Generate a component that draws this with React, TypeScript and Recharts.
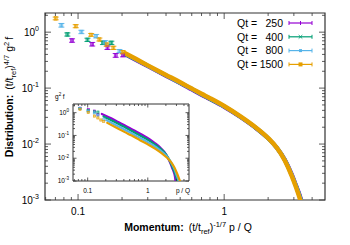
import { ComposedChart, Line, Scatter, ErrorBar, XAxis, YAxis, ReferenceArea, Legend } from "recharts";

const FONT = '"Liberation Sans", Arial, Helvetica, sans-serif';

const qtLabels = ["250", "400", "800", "1500"];
const colors = ["#9400d3", "#009e73", "#56b4e9", "#e69f00"];

// main plot: low momentum points with error bars
const purpleSparseP = [0.091, 0.125, 0.159, 0.181, 0.203];
const purpleSparseF = [0.71, 0.61, 0.53, 0.385, 0.39];
const purpleSparseE = [0.05, 0.045, 0.04, 0.03, 0.028];
const greenSparseP = [0.0845, 0.116, 0.148, 0.169];
const greenSparseF = [0.91, 0.73, 0.645, 0.645];
const greenSparseE = [0.06, 0.05, 0.045, 0.045];
const cyanSparseP = [0.0769, 0.1054, 0.133, 0.153, 0.192];
const cyanSparseF = [1.33, 1.01, 0.85, 0.66, 0.46];
const cyanSparseE = [0.1, 0.07, 0.06, 0.045, 0.03];
const orangeSparseP = [0.0703, 0.0964, 0.123, 0.14, 0.157, 0.1745, 0.202];
const orangeSparseF = [1.76, 1.28, 0.895, 0.74, 0.6, 0.525, 0.44];
const orangeSparseE = [0.1, 0.08, 0.05, 0.045, 0.04, 0.035, 0.03];

// main plot: dense part (collapsed curves)
const denseP = [0.21, 0.25, 0.3, 0.4, 0.5, 0.6, 0.7, 0.8, 1.0, 1.3, 1.6, 2.0, 2.3, 2.6, 2.9, 3.1, 3.3, 3.45];
const purpleDenseF = [0.4, 0.315, 0.246, 0.165, 0.122, 0.094, 0.0755, 0.063, 0.046, 0.03, 0.0204, 0.0126, 0.0085, 0.0053, 0.0029, 0.00185, 0.0012, 0.0008];
const greenDenseF = [0.405, 0.32, 0.25, 0.168, 0.124, 0.096, 0.077, 0.064, 0.0468, 0.0303, 0.0206, 0.0126, 0.0085, 0.0052, 0.0028, 0.0018, 0.00115, 0.00078];
const cyanDenseF = [0.41, 0.325, 0.252, 0.17, 0.125, 0.097, 0.078, 0.065, 0.0473, 0.0306, 0.0208, 0.0127, 0.0085, 0.0052, 0.0028, 0.00178, 0.00112, 0.00075];
const orangeDenseF = [0.42, 0.33, 0.255, 0.172, 0.127, 0.098, 0.079, 0.066, 0.048, 0.031, 0.021, 0.0128, 0.0085, 0.0051, 0.0027, 0.0017, 0.00105, 0.0007];

// inset: unscaled g^2 f vs p/Q
const purpleInsetSparseP = [0.0746, 0.1025, 0.13, 0.148];
const purpleInsetSparseF = [1.57, 1.35, 1.17, 0.84];
const greenInsetSparseP = [0.0741, 0.1017, 0.13, 0.148];
const greenInsetSparseF = [1.53, 1.23, 1.08, 1.06];
const cyanInsetSparseP = [0.0745, 0.102, 0.129, 0.148, 0.186];
const cyanInsetSparseF = [1.51, 1.15, 0.97, 0.75, 0.52];
const orangeInsetSparseP = [0.0745, 0.102, 0.13, 0.148, 0.166, 0.185];
const orangeInsetSparseF = [1.4, 1.015, 0.71, 0.587, 0.476, 0.416];

const purpleInsetP = [0.172, 0.246, 0.328, 0.41, 0.574, 0.82, 1.066, 1.31, 1.64, 1.886, 2.13, 2.38, 2.54, 2.71, 2.83, 2.91];
const purpleInsetF = [0.88, 0.564, 0.38, 0.281, 0.172, 0.104, 0.0685, 0.0464, 0.0283, 0.0188, 0.0111, 0.006, 0.00376, 0.00243, 0.00155, 0.00088];
const greenInsetP = [0.184, 0.263, 0.351, 0.439, 0.614, 0.877, 1.14, 1.4, 1.754, 2.02, 2.28, 2.54, 2.72, 2.89, 3.03, 3.11];
const greenInsetF = [0.68, 0.43, 0.29, 0.214, 0.132, 0.0793, 0.0523, 0.0354, 0.0216, 0.0143, 0.00844, 0.00455, 0.00287, 0.00186, 0.00118, 0.00067];
const cyanInsetP = [0.204, 0.291, 0.388, 0.484, 0.678, 0.969, 1.26, 1.55, 1.94, 2.23, 2.52, 2.81, 3.0, 3.2, 3.34];
const cyanInsetF = [0.47, 0.29, 0.195, 0.144, 0.0886, 0.0534, 0.0352, 0.0239, 0.0145, 0.00966, 0.00568, 0.00307, 0.00193, 0.00125, 0.0008];
const orangeInsetP = [0.212, 0.318, 0.424, 0.53, 0.742, 1.06, 1.378, 1.696, 2.12, 2.44, 2.76, 3.07, 3.29, 3.5];
const orangeInsetF = [0.357, 0.202, 0.136, 0.101, 0.062, 0.0373, 0.0246, 0.0167, 0.0102, 0.0067, 0.00397, 0.00214, 0.00135, 0.00087];

const rows = (ps: number[], fs: number[], es?: number[]) =>
  ps.map((p, i) => ({ p, f: fs[i], e: es ? es[i] : 0 }));

const mainSparse = [
  rows(purpleSparseP, purpleSparseF, purpleSparseE),
  rows(greenSparseP, greenSparseF, greenSparseE),
  rows(cyanSparseP, cyanSparseF, cyanSparseE),
  rows(orangeSparseP, orangeSparseF, orangeSparseE),
];
const mainDense = [purpleDenseF, greenDenseF, cyanDenseF, orangeDenseF].map((fs) => rows(denseP, fs));
const insetSparse = [
  rows(purpleInsetSparseP, purpleInsetSparseF),
  rows(greenInsetSparseP, greenInsetSparseF),
  rows(cyanInsetSparseP, cyanInsetSparseF),
  rows(orangeInsetSparseP, orangeInsetSparseF),
];
const insetDense = [
  rows(purpleInsetP, purpleInsetF),
  rows(greenInsetP, greenInsetF),
  rows(cyanInsetP, cyanInsetF),
  rows(orangeInsetP, orangeInsetF),
];

const MAIN_X = [0.0594, 4.9];
const MAIN_Y = [0.001, 2.2];
const INSET_X = [0.057, 4.85];
const INSET_Y = [0.001, 2.4];

const M = { l: 45, r: 325, t: 13, b: 200 };
const I = { l: 28, r: 144, t: 16, b: 93 };

const logTicks = (lo: number, hi: number) => {
  const out: number[] = [];
  for (let d = Math.floor(Math.log10(lo)); d <= Math.ceil(Math.log10(hi)); d++) {
    for (let m = 1; m <= 9; m++) {
      const v = m * Math.pow(10, d);
      if (v >= lo * 0.999 && v <= hi * 1.001) out.push(v);
    }
  }
  return out;
};
const isMajor = (v: number) => {
  const lg = Math.log10(v);
  return Math.abs(lg - Math.round(lg)) < 1e-6;
};
const fmtX = (v: number) => (v < 1 ? v.toFixed(1) : String(Math.round(v)));

const AX = "#333";

const makeYTick = (box: typeof M, big: number, small: number, fs: number, labelX: number) => (props: any) => {
  const v = props.payload.value;
  const y = props.y;
  const major = isMajor(v);
  const len = major ? big : small;
  return (
    <g>
      <line x1={box.l} x2={box.l + len} y1={y} y2={y} stroke={AX} strokeWidth={0.8} />
      <line x1={box.r} x2={box.r - len} y1={y} y2={y} stroke={AX} strokeWidth={0.8} />
      {major && (
        <text x={labelX} y={y + fs * 0.35} textAnchor="end" fontSize={fs} fontFamily={FONT} fill="#000">
          10
          <tspan dy={-fs * 0.45} fontSize={fs * 0.7}>
            {Math.round(Math.log10(v))}
          </tspan>
        </text>
      )}
    </g>
  );
};

const makeXTick = (box: typeof M, big: number, small: number, fs: number, labelY: number) => (props: any) => {
  const v = props.payload.value;
  const x = props.x;
  const major = isMajor(v);
  const len = major ? big : small;
  return (
    <g>
      <line x1={x} x2={x} y1={box.b} y2={box.b - len} stroke={AX} strokeWidth={0.8} />
      <line x1={x} x2={x} y1={box.t} y2={box.t + len} stroke={AX} strokeWidth={0.8} />
      {major && (
        <text x={x} y={labelY} textAnchor="middle" fontSize={fs} fontFamily={FONT} fill="#000">
          {fmtX(v)}
        </text>
      )}
    </g>
  );
};

const MainYTick = makeYTick(M, 6, 3, 10, 39);
const MainXTick = makeXTick(M, 6, 3, 10, 215);
const InsetYTick = makeYTick(I, 3.5, 2, 6.5, 24);
const InsetXTick = makeXTick(I, 3.5, 2, 6.5, 105);

const MainXLabel = () => (
  <text x={188} y={231} textAnchor="middle" fontSize={10.5} fontFamily={FONT} fill="#000">
    <tspan fontWeight="bold">Momentum:</tspan>
    <tspan dx={5}>(t/t</tspan>
    <tspan dy={2.5} fontSize={7.5}>ref</tspan>
    <tspan dy={-2.5}>)</tspan>
    <tspan dy={-4.5} fontSize={7.5}>-1/7</tspan>
    <tspan dy={4.5} dx={3}>p / Q</tspan>
  </text>
);

const MainYLabel = () => (
  <text
    x={0}
    y={0}
    transform="translate(13,97) rotate(-90)"
    textAnchor="middle"
    fontSize={10.5}
    fontFamily={FONT}
    fill="#000"
  >
    <tspan fontWeight="bold">Distribution:</tspan>
    <tspan dx={5}>(t/t</tspan>
    <tspan dy={2.5} fontSize={7.5}>ref</tspan>
    <tspan dy={-2.5}>)</tspan>
    <tspan dy={-4.5} fontSize={7.5}>4/7</tspan>
    <tspan dy={4.5} dx={3}>g</tspan>
    <tspan dy={-4.5} fontSize={7.5}>2</tspan>
    <tspan dy={4.5} dx={2}>f</tspan>
  </text>
);

const InsetXLabel = () => (
  <text x={138} y={105} textAnchor="middle" fontSize={6.5} fontFamily={FONT} fill="#000">
    p / Q
  </text>
);
const InsetYLabel = () => (
  <text x={10} y={11} fontSize={6.5} fontFamily={FONT} fill="#000">
    g<tspan dy={-3} fontSize={4.5}>2</tspan>
    <tspan dy={3} dx={1.5}>f</tspan>
  </text>
);

const marker = (i: number, x: number, y: number, c: string) => {
  if (i === 0) return <line x1={x} x2={x} y1={y - 2} y2={y + 2} stroke={c} strokeWidth={1} />;
  if (i === 1)
    return (
      <path d={`M${x - 1.8},${y - 1.8}L${x + 1.8},${y + 1.8}M${x - 1.8},${y + 1.8}L${x + 1.8},${y - 1.8}`} stroke={c} strokeWidth={0.9} />
    );
  if (i === 2) return <rect x={x - 1.5} y={y - 1.5} width={3} height={3} fill={c} />;
  return <rect x={x - 2} y={y - 2} width={4} height={4} fill={c} />;
};

const LegendBox = () => (
  <svg width={95} height={62} style={{ display: "block" }}>
    {qtLabels.map((q, i) => {
      const y = 9 + i * 13.8;
      const c = colors[i];
      return (
        <g key={q}>
          <text x={7} y={y + 3.7} fontSize={10.5} fontFamily={FONT} fill="#000">
            Qt =
          </text>
          <text x={53} y={y + 3.7} fontSize={10.5} fontFamily={FONT} fill="#000" textAnchor="end">
            {q}
          </text>
          <line x1={59} x2={82} y1={y} y2={y} stroke={c} strokeWidth={1.2} />
          <line x1={59} x2={59} y1={y - 2} y2={y + 2} stroke={c} strokeWidth={1} />
          <line x1={82} x2={82} y1={y - 2} y2={y + 2} stroke={c} strokeWidth={1} />
          {marker(i, 70.5, y, c)}
        </g>
      );
    })}
  </svg>
);

const pointShape = (c: string, w: number, h: number) => (props: any) => (
  <rect
    x={props.cx - w / 2}
    y={props.cy - h / 2}
    width={w}
    height={h}
    fill={c}
    fillOpacity={0.5}
    stroke={c}
    strokeWidth={0.6}
  />
);

export default function App() {
  return (
    <div style={{ position: "absolute", left: 0, top: 0, width: 350, height: 245, background: "#fff" }}>
      <ComposedChart width={350} height={245} margin={{ top: 13, right: 25, bottom: 0, left: 0 }}>
        <XAxis
          dataKey="p"
          type="number"
          scale="log"
          domain={MAIN_X}
          allowDataOverflow
          ticks={logTicks(MAIN_X[0], MAIN_X[1])}
          interval={0}
          tick={<MainXTick />}
          tickLine={false}
          axisLine={false}
          height={45}
          label={<MainXLabel />}
        />
        <YAxis
          type="number"
          scale="log"
          domain={MAIN_Y}
          allowDataOverflow
          ticks={logTicks(MAIN_Y[0], MAIN_Y[1])}
          interval={0}
          tick={<MainYTick />}
          tickLine={false}
          axisLine={false}
          width={45}
          label={<MainYLabel />}
        />
        <ReferenceArea
          x1={MAIN_X[0]}
          x2={MAIN_X[1]}
          y1={MAIN_Y[0]}
          y2={MAIN_Y[1]}
          fill="none"
          stroke={AX}
          strokeWidth={1.2}
          ifOverflow="visible"
        />
        {mainSparse.map((d, i) => (
          <Scatter key={"s" + i} data={d} dataKey="f" isAnimationActive={false} shape={pointShape(colors[i], 3, 3.5)}>
            <ErrorBar dataKey="e" direction="y" width={3} stroke={colors[i]} strokeWidth={0.9} />
          </Scatter>
        ))}
        {mainDense.map((d, i) => (
          <Line
            key={"d" + i}
            data={d}
            dataKey="f"
            type="monotone"
            stroke={colors[i]}
            strokeWidth={i === 3 ? 4.5 : 4}
            strokeLinecap="round"
            strokeLinejoin="round"
            dot={false}
            isAnimationActive={false}
          />
        ))}
        <Legend
          layout="vertical"
          align="center"
          verticalAlign="middle"
          content={<LegendBox />}
          wrapperStyle={{ left: 230, top: 14, width: 95, height: 62 }}
        />
      </ComposedChart>

      <div style={{ position: "absolute", left: 45, top: 88 }}>
        <ComposedChart width={150} height={108} margin={{ top: 16, right: 6, bottom: 0, left: 0 }}>
          <XAxis
            dataKey="p"
            type="number"
            scale="log"
            domain={INSET_X}
            allowDataOverflow
            ticks={logTicks(INSET_X[0], INSET_X[1])}
            interval={0}
            tick={<InsetXTick />}
            tickLine={false}
            axisLine={false}
            height={15}
            label={<InsetXLabel />}
          />
          <YAxis
            type="number"
            scale="log"
            domain={INSET_Y}
            allowDataOverflow
            ticks={logTicks(INSET_Y[0], INSET_Y[1])}
            interval={0}
            tick={<InsetYTick />}
            tickLine={false}
            axisLine={false}
            width={28}
            label={<InsetYLabel />}
          />
          <ReferenceArea
            x1={INSET_X[0]}
            x2={INSET_X[1]}
            y1={INSET_Y[0]}
            y2={INSET_Y[1]}
            fill="none"
            stroke={AX}
            strokeWidth={1}
            ifOverflow="visible"
          />
          {insetSparse.map((d, i) => (
            <Scatter key={"is" + i} data={d} dataKey="f" isAnimationActive={false} shape={pointShape(colors[i], 2.2, 2.2)} />
          ))}
          {insetDense.map((d, i) => (
            <Line
              key={"id" + i}
              data={d}
              dataKey="f"
              type="monotone"
              stroke={colors[i]}
              strokeWidth={2.2}
              strokeLinecap="round"
              dot={false}
              isAnimationActive={false}
            />
          ))}
        </ComposedChart>
      </div>
    </div>
  );
}
